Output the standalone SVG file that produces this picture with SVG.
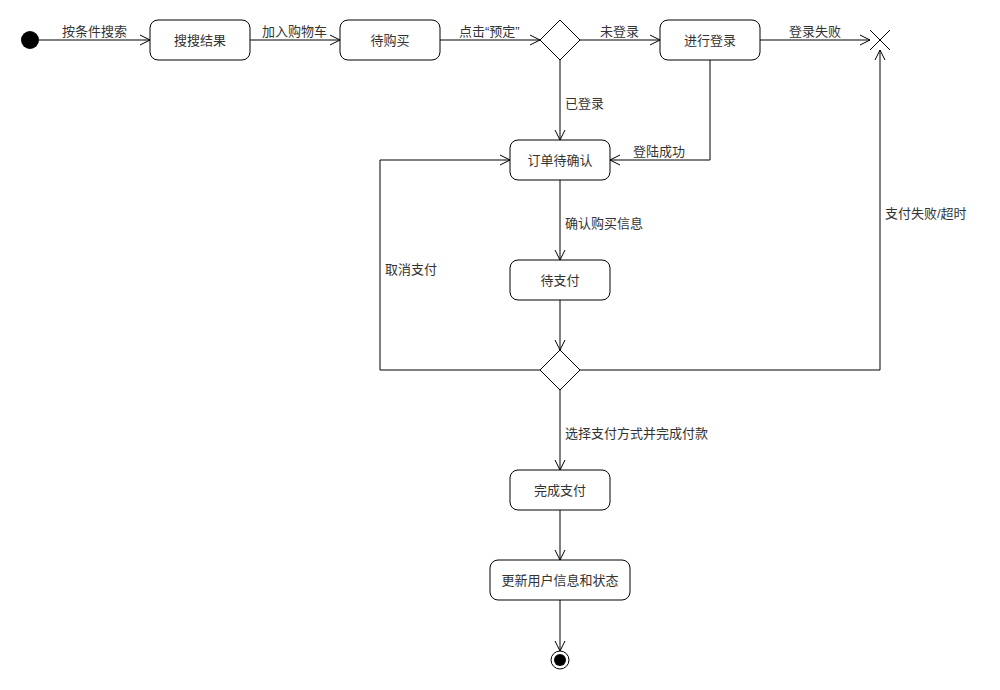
<svg xmlns="http://www.w3.org/2000/svg" width="1000" height="690" viewBox="0 0 1000 690">
  <defs>
    <marker id="open" viewBox="0 0 12 12" refX="11" refY="6" markerWidth="12" markerHeight="12" markerUnits="userSpaceOnUse" orient="auto">
      <path d="M1,1 L11,6 L1,11" fill="none" stroke="#000" stroke-width="1"/>
    </marker>
  </defs>
  <style>
    .state { fill: #fff; stroke: #000; stroke-width: 1; }
    .txt { font-family: "Liberation Sans", "Noto Sans CJK SC", sans-serif; font-size: 13px; fill: #333; }
    .mid { text-anchor: middle; dominant-baseline: central; }
    .edge { fill: none; stroke: #000; stroke-width: 1; marker-end: url(#open); }
  </style>
  <rect width="1000" height="690" fill="#fff"/>

  <!-- transitions -->
  <g id="connectors">
    <path class="edge" d="M39,40 H150"/>
    <path class="edge" d="M250,40 H340"/>
    <path class="edge" d="M440,40 H540"/>
    <path class="edge" d="M580,40 H660"/>
    <path class="edge" d="M760,40 H870"/>
    <path class="edge" d="M560,60 V140"/>
    <path class="edge" d="M710,60 V160 H610"/>
    <path class="edge" d="M540,370 H380 V160 H510"/>
    <path class="edge" d="M560,180 V260"/>
    <path class="edge" d="M560,300 V350"/>
    <path class="edge" d="M580,370 H880 V50"/>
    <path class="edge" d="M560,390 V470"/>
    <path class="edge" d="M560,510 V560"/>
    <path class="edge" d="M560,600 V651"/>

    <text class="txt" x="62" y="36">按条件搜索</text>
    <text class="txt" x="262" y="36">加入购物车</text>
    <text class="txt" x="459" y="36">点击“预定”</text>
    <text class="txt" x="600" y="36">未登录</text>
    <text class="txt" x="789" y="36">登录失败</text>
    <text class="txt" x="565" y="108">已登录</text>
    <text class="txt" x="633" y="156">登陆成功</text>
    <text class="txt" x="565" y="228">确认购买信息</text>
    <text class="txt" x="385" y="274">取消支付</text>
    <text class="txt" x="885" y="218">支付失败/超时</text>
    <text class="txt" x="565" y="438">选择支付方式并完成付款</text>
  </g>

  <g id="start"><circle cx="30" cy="40" r="9" fill="#000"/></g>

  <g id="search-result">
    <rect class="state" x="150" y="20" width="100" height="40" rx="8"/>
    <text class="txt mid" x="200" y="40">搜搜结果</text>
  </g>
  <g id="to-buy">
    <rect class="state" x="340" y="20" width="100" height="40" rx="8"/>
    <text class="txt mid" x="390" y="40">待购买</text>
  </g>
  <g id="login-check">
    <polygon class="state" points="560,20 580,40 560,60 540,40"/>
  </g>
  <g id="login">
    <rect class="state" x="660" y="20" width="100" height="40" rx="8"/>
    <text class="txt mid" x="710" y="40">进行登录</text>
  </g>
  <g id="flow-final">
    <path d="M870,30 L890,50 M890,30 L870,50" stroke="#000" stroke-width="1" fill="none"/>
  </g>
  <g id="order-confirm">
    <rect class="state" x="510" y="140" width="100" height="40" rx="8"/>
    <text class="txt mid" x="560" y="160">订单待确认</text>
  </g>
  <g id="to-pay">
    <rect class="state" x="510" y="260" width="100" height="40" rx="8"/>
    <text class="txt mid" x="560" y="280">待支付</text>
  </g>
  <g id="pay-check">
    <polygon class="state" points="560,350 580,370 560,390 540,370"/>
  </g>
  <g id="paid">
    <rect class="state" x="510" y="470" width="100" height="40" rx="8"/>
    <text class="txt mid" x="560" y="490">完成支付</text>
  </g>
  <g id="update-user">
    <rect class="state" x="490" y="560" width="140" height="40" rx="8"/>
    <text class="txt mid" x="560" y="580">更新用户信息和状态</text>
  </g>
  <g id="end">
    <circle cx="560" cy="660" r="9" fill="#fff" stroke="#000" stroke-width="1"/>
    <circle cx="560" cy="660" r="6" fill="#000"/>
  </g>
</svg>
